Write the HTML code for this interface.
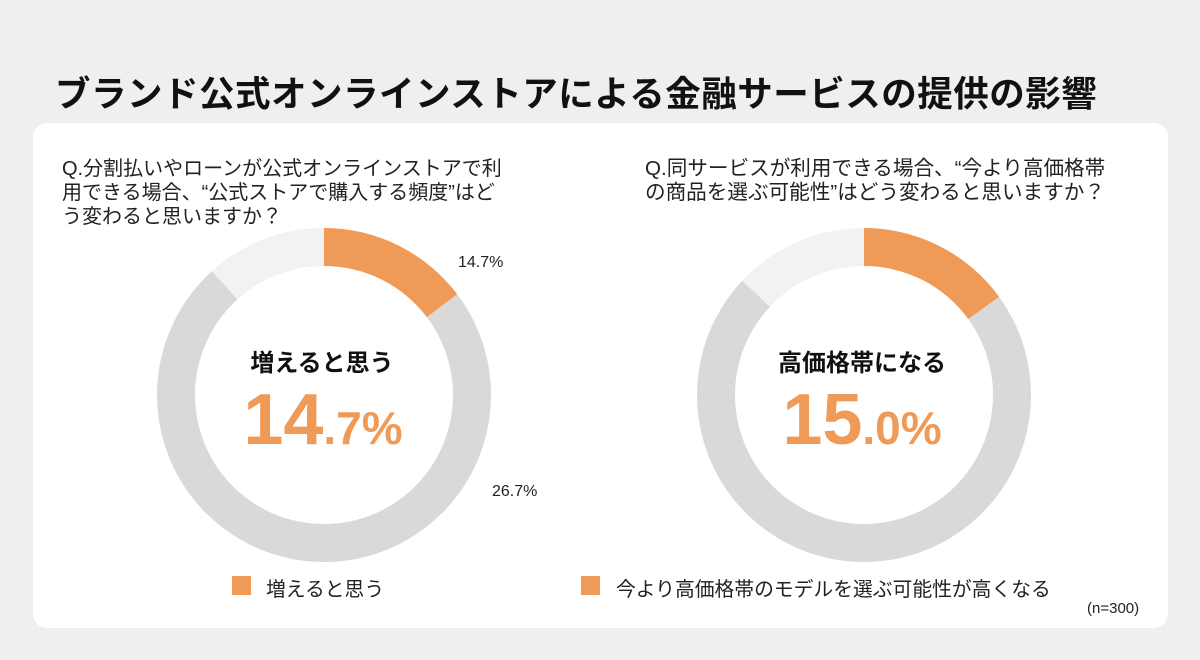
<!DOCTYPE html>
<html><head><meta charset="utf-8">
<style>
body{margin:0;width:1200px;height:660px;background:#efefef;font-family:"Liberation Sans","Noto Sans CJK JP",sans-serif;position:relative;overflow:hidden;color:#111}
.t{position:absolute;white-space:nowrap}
#title{left:55px;top:66px;font-size:35.5px;font-weight:bold;letter-spacing:0.5px}
#card{position:absolute;left:33px;top:123px;width:1135px;height:505px;background:#fff;border-radius:14px}
.q{font-size:20px;line-height:24px;color:#222}
.lg{font-size:19.8px;color:#222}
.sw{position:absolute;width:19px;height:19px;background:#f09a57}
</style></head><body>
<div id="title" class="t">ブランド公式オンラインストアによる金融サービスの提供の影響</div>
<div id="card"></div>
<div class="t q" style="left:62px;top:157px">Q.分割払いやローンが公式オンラインストアで利<br>用できる場合、“公式ストアで購入する頻度”はど<br>う変わると思いますか？</div>
<div class="t q" style="left:645px;top:157px;font-size:20.6px">Q.同サービスが利用できる場合、“今より高価格帯<br>の商品を選ぶ可能性”はどう変わると思いますか？</div>
<svg id="chart" width="1200" height="660" style="position:absolute;left:0;top:0"></svg>
<div class="sw" style="left:232px;top:576px"></div>
<div class="t lg" style="left:266px;top:573px">増えると思う</div>
<div class="sw" style="left:581px;top:576px"></div>
<div class="t lg" style="left:616px;top:573px">今より高価格帯のモデルを選ぶ可能性が高くなる</div>
<div class="t" style="left:1087px;top:600px;font-size:15px;color:#222">(n=300)</div>
<script>
const donut1Values=[14.7,73.6,11.7];
const donut2Values=[15.0,72.0,13.0];
const colors=['#f09a57','#d9d9d9','#f2f2f2'];
const donut1Labels=['14.7%','26.7%'];
const svg=document.getElementById('chart');
const NS='http://www.w3.org/2000/svg';
function pt(cx,cy,r,a){return [cx+r*Math.sin(a),cy-r*Math.cos(a)];}
function drawDonut(vals,cx,cy,ro,ri,name){
  const tot=vals.reduce((a,b)=>a+b,0);let acc=0;
  vals.forEach((v,i)=>{
    const a0=acc/tot*2*Math.PI;acc+=v;const a1=acc/tot*2*Math.PI;
    const lg=(a1-a0)>Math.PI?1:0;
    const p1=pt(cx,cy,ro,a0),p2=pt(cx,cy,ro,a1),p3=pt(cx,cy,ri,a1),p4=pt(cx,cy,ri,a0);
    const p=document.createElementNS(NS,'path');
    p.setAttribute('d',`M${p1}A${ro},${ro} 0 ${lg} 1 ${p2}L${p3}A${ri},${ri} 0 ${lg} 0 ${p4}Z`);
    p.setAttribute('fill',colors[i]);
    
    
    svg.appendChild(p);
  });
}
function txt(x,y,s,size,fill,weight,name,anchor){
  const t=document.createElementNS(NS,'text');
  t.setAttribute('x',x);t.setAttribute('y',y);t.setAttribute('font-size',size);
  t.setAttribute('fill',fill);t.setAttribute('font-weight',weight);
  t.setAttribute('text-anchor',anchor||'middle');
  t.setAttribute('font-family','"Liberation Sans","Noto Sans CJK JP",sans-serif');
  t.textContent=s;
  
  
  svg.appendChild(t);return t;
}
drawDonut(donut1Values,324,395,167,129,'donut-1');
drawDonut(donut2Values,864,395,167,129,'donut-2');
txt(458,267,donut1Labels[0],16,'#222','normal','data-label-1','start');
txt(492,496,donut1Labels[1],16,'#222','normal','data-label-2','start');
txt(322,371,'増えると思う',24,'#111','bold','center-label-1');
txt(862,371,'高価格帯になる',24,'#111','bold','center-label-2');
function big(x,s,name){
  const parts=s.split('.');
  const t=txt(x,444,'',72,'#f09a57','bold',name);
  const a=document.createElementNS(NS,'tspan');a.textContent=parts[0];
  const b=document.createElementNS(NS,'tspan');b.textContent='.'+parts[1];b.setAttribute('font-size','46');
  t.appendChild(a);t.appendChild(b);
}
big(323,donut1Values[0].toFixed(1)+'%','center-value-1');
big(862,donut2Values[0].toFixed(1)+'%','center-value-2');
</script>
</body></html>
